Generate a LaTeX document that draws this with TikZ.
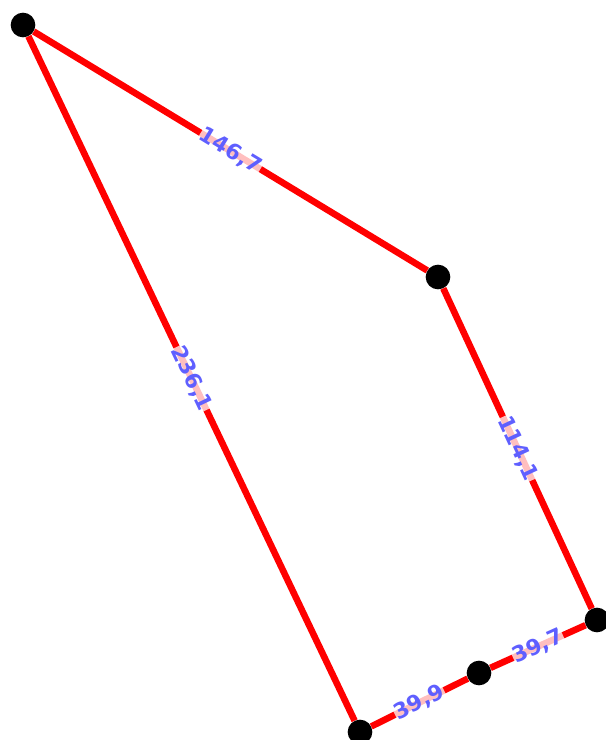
\documentclass[tikz,border=0pt]{standalone}
\usepackage{fontspec}
\setmainfont{DejaVu Sans}
\usepackage{tikz}
\usetikzlibrary{positioning}
\definecolor{edgered}{RGB}{255,0,0}
\definecolor{labelblue}{RGB}{95,95,255}

\begin{document}
\begin{tikzpicture}[
  x=0.03cm, y=-0.03cm,
  vertex/.style={circle, fill=black, inner sep=0pt, minimum size=0.74cm},
  edge/.style={draw=edgered, line width=5.6pt},
  len/.style={sloped, midway, font=\fontsize{18.5}{18.5}\selectfont\bfseries,
    text=labelblue, fill=white, fill opacity=0.75, text opacity=1,
    inner sep=0.5pt}
]
  \useasboundingbox (0,0) rectangle (605,740);
  \node[vertex] (p1) at (23,25)   {};
  \node[vertex] (p2) at (438,277) {};
  \node[vertex] (p3) at (597,620) {};
  \node[vertex] (p4) at (479,673) {};
  \node[vertex] (p5) at (360,732) {};
  \draw[edge] (p1) -- node[len] {146,7} (p2);
  \draw[edge] (p2) -- node[len] {114,1} (p3);
  \draw[edge] (p4) -- node[len] {39,7} (p3);
  \draw[edge] (p5) -- node[len] {39,9} (p4);
  \draw[edge] (p1) -- node[len] {236,1} (p5);
\end{tikzpicture}
\end{document}
